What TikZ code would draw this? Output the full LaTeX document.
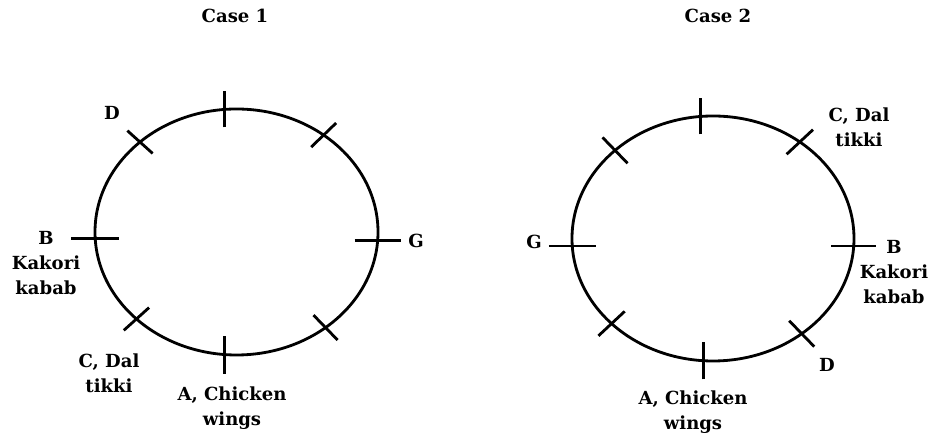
\documentclass[tikz,border=0pt]{standalone}
\usepackage{fontspec}
\setmainfont{DejaVu Serif}
\usetikzlibrary{positioning}

\begin{document}
\begin{tikzpicture}[
          every node/.style={font=\bfseries\fontsize{15.4}{21.5}\selectfont,
              align=center,inner sep=0pt},
          table/.style={line width=2.4pt},
          seat/.style={line width=2.4pt}]
        \useasboundingbox (0,0) rectangle (27.96,13.17);

        % case 1
        \node (title1) at (7.05,12.69) {Case 1};
        \coordinate (t1) at (7.095,6.21);
        \draw[table] (t1) ellipse (4.245 and 3.69);
        \foreach \a/\d/\h [count=\i] in {95/90/.54,133/138/.51,183/0/.72,
            225/42/.51,265/90/.57,309/-46/.52,356/0/.69,52/44/.52}
          \draw[seat] (t1) ++(\a:4.245 and 3.69) coordinate (s1\i)
            ++(\d:-\h) -- ++(\d:2*\h);
        \node (d1) at (3.36,9.78) {D};
        \node (b1) at (1.38,5.28) {B\\Kakori\\kabab};
        \node (g1) at (12.48,5.94) {G};
        \node (c1) at (3.27,1.98) {C, Dal\\tikki};
        \node (a1) at (6.96,0.93) {A, Chicken\\wings};

        % case 2
        \node (title2) at (21.54,12.69) {Case 2};
        \coordinate (t2) at (21.39,6.015);
        \draw[table] (t2) ellipse (4.23 and 3.675);
        \foreach \a/\d/\h [count=\i] in {95/90/.54,134/134/.54,183.5/0/.7,
            224/43/.54,266/90/.56,309/-46/.54,356.5/0/.68,52/43/.54}
          \draw[seat] (t2) ++(\a:4.23 and 3.675) coordinate (s2\i)
            ++(\d:-\h) -- ++(\d:2*\h);
        \node (g2) at (16.02,5.91) {G};
        \node (b2) at (26.82,5.01) {B\\Kakori\\kabab};
        \node (c2) at (25.77,9.36) {C, Dal\\tikki};
        \node (d2) at (24.81,2.22) {D};
        \node (a2) at (20.79,0.81) {A, Chicken\\wings};
      \end{tikzpicture}
\end{document}
